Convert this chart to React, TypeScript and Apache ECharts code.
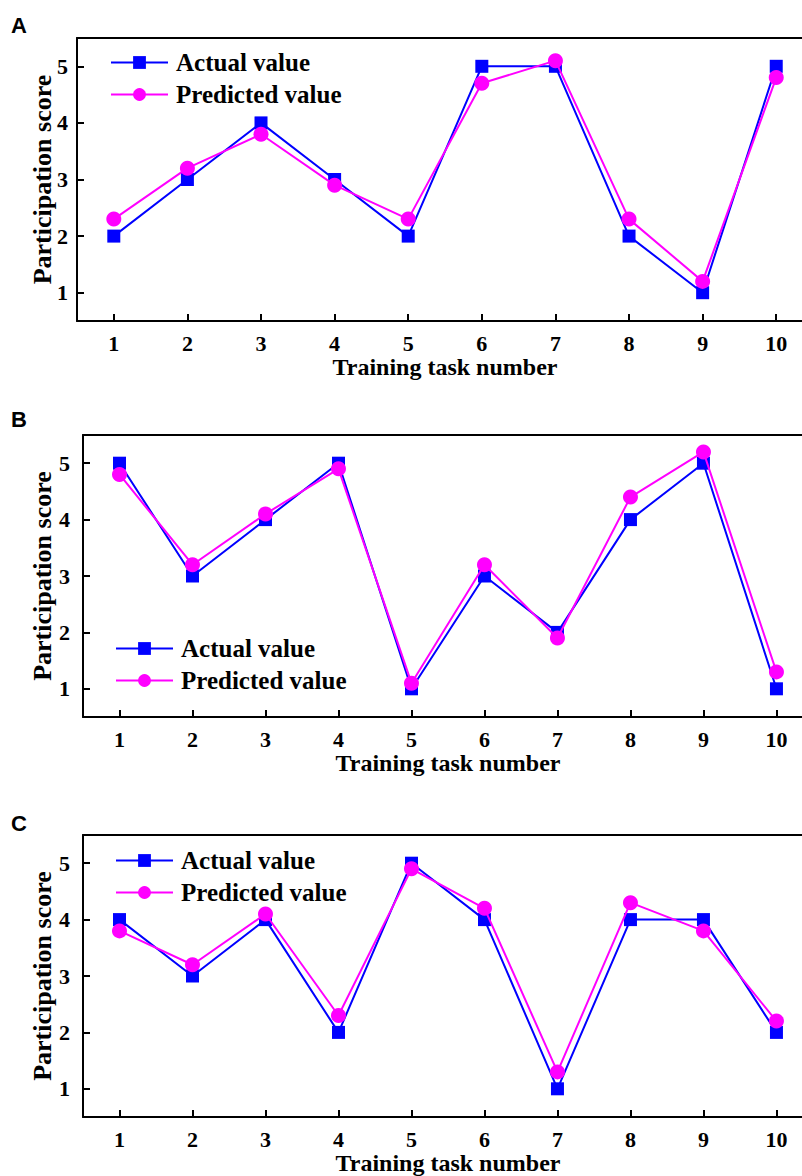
import React, { useEffect, useRef } from "react";
import * as echarts from "echarts";

const tasks = [1, 2, 3, 4, 5, 6, 7, 8, 9, 10];
const yTicks = [1, 2, 3, 4, 5];

const actualA = [2, 3, 4, 3, 2, 5, 5, 2, 1, 5];
const predictedA = [2.3, 3.2, 3.8, 2.9, 2.3, 4.7, 5.1, 2.3, 1.2, 4.8];
const actualB = [5, 3, 4, 5, 1, 3, 2, 4, 5, 1];
const predictedB = [4.8, 3.2, 4.1, 4.9, 1.1, 3.2, 1.9, 4.4, 5.2, 1.3];
const actualC = [4, 3, 4, 2, 5, 4, 1, 4, 4, 2];
const predictedC = [3.8, 3.2, 4.1, 2.3, 4.9, 4.2, 1.3, 4.3, 3.8, 2.2];

const panelLabels = ["A", "B", "C"];
const seriesNames = ["Actual value", "Predicted value"];
const xName = "Training task number";
const yName = "Participation score";

const BLUE = "#0000FF";
const MAGENTA = "#FF00FF";
const SERIF = "'Liberation Serif', 'Times New Roman', serif";

export default function App() {
  const ref = useRef<HTMLDivElement>(null);

  useEffect(() => {
    document.body.style.margin = "0";
    if (!ref.current) return;
    const chart = echarts.init(ref.current, undefined, { renderer: "svg" });

    const panels = [
      { actual: actualA, predicted: predictedA, left: 77, top: 38, height: 283, labelY: 14, legendLeft: 110, legendTop: 50, yLabelMargin: 9, yNameGap: 22 },
      { actual: actualB, predicted: predictedB, left: 83, top: 435, height: 282, labelY: 408, legendLeft: 115, legendTop: 636, yLabelMargin: 13, yNameGap: 28 },
      { actual: actualC, predicted: predictedC, left: 83, top: 835, height: 282, labelY: 812, legendLeft: 115, legendTop: 848, yLabelMargin: 13, yNameGap: 28 },
    ];

    const grids: any[] = [];
    const xAxes: any[] = [];
    const yAxes: any[] = [];
    const series: any[] = [];
    const legends: any[] = [];
    const graphics: any[] = [];

    const axisLine = { show: true, onZero: false, lineStyle: { color: "#000", width: 2 } };

    panels.forEach((p, i) => {
      grids.push({ left: p.left, top: p.top, right: 0, height: p.height, containLabel: false });
      xAxes.push({
        type: "value",
        gridIndex: i,
        min: 0.5,
        max: 10.35,
        position: "bottom",
        axisLine,
        axisTick: { show: true, inside: true, length: 7, lineStyle: { color: "#000", width: 2 }, customValues: tasks },
        axisLabel: { show: true, customValues: tasks, margin: 13, lineHeight: 18, color: "#000", fontFamily: SERIF, fontWeight: "bold", fontSize: 22 },
        splitLine: { show: false },
        name: xName,
        nameLocation: "middle",
        nameGap: 34,
        nameMoveOverlap: false,
        nameTextStyle: { color: "#000", fontFamily: SERIF, fontWeight: "bold", fontSize: 24, lineHeight: 24, padding: [0, 0, 0, 11] },
      });
      xAxes.push({
        type: "value",
        gridIndex: i,
        min: 0.5,
        max: 10.35,
        position: "top",
        axisLine,
        axisTick: { show: false },
        axisLabel: { show: false },
        splitLine: { show: false },
      });
      yAxes.push({
        type: "value",
        gridIndex: i,
        min: 0.5,
        max: 5.5,
        axisLine,
        axisTick: { show: true, inside: true, length: 7, lineStyle: { color: "#000", width: 2 }, customValues: yTicks },
        axisLabel: { show: true, customValues: yTicks, margin: p.yLabelMargin, color: "#000", fontFamily: SERIF, fontWeight: "bold", fontSize: 22 },
        splitLine: { show: false },
        name: yName,
        nameLocation: "middle",
        nameGap: p.yNameGap,
        nameMoveOverlap: false,
        nameTextStyle: { color: "#000", fontFamily: SERIF, fontWeight: "bold", fontSize: 26 },
      });
      series.push({
        type: "line",
        name: seriesNames[0],
        xAxisIndex: i * 2,
        yAxisIndex: i,
        data: tasks.map((t, k) => [t, p.actual[k]]),
        symbol: "rect",
        symbolSize: 13,
        itemStyle: { color: BLUE },
        lineStyle: { color: BLUE, width: 2 },
        z: 2,
      });
      series.push({
        type: "line",
        name: seriesNames[1],
        xAxisIndex: i * 2,
        yAxisIndex: i,
        data: tasks.map((t, k) => [t, p.predicted[k]]),
        symbol: "circle",
        symbolSize: 15,
        itemStyle: { color: MAGENTA },
        lineStyle: { color: MAGENTA, width: 2 },
        z: 3,
      });
      legends.push({
        data: seriesNames,
        orient: "vertical",
        left: p.legendLeft,
        top: p.legendTop,
        padding: 0,
        itemWidth: 57,
        itemHeight: 16,
        itemGap: 7,
        selectedMode: false,
        textStyle: { color: "#000", fontFamily: SERIF, fontWeight: "bold", fontSize: 25, padding: [0, 0, 0, 3] },
      });
      graphics.push({
        type: "text",
        left: 11,
        top: p.labelY,
        style: { text: panelLabels[i], fill: "#000", font: "bold 22px 'Liberation Sans', Arial, sans-serif" },
      });
    });

    chart.setOption({
      animation: false,
      backgroundColor: "#fff",
      grid: grids,
      xAxis: xAxes,
      yAxis: yAxes,
      series,
      legend: legends,
      graphic: graphics,
    });

    return () => chart.dispose();
  }, []);

  return <div ref={ref} style={{ width: 802, height: 1176 }} />;
}
